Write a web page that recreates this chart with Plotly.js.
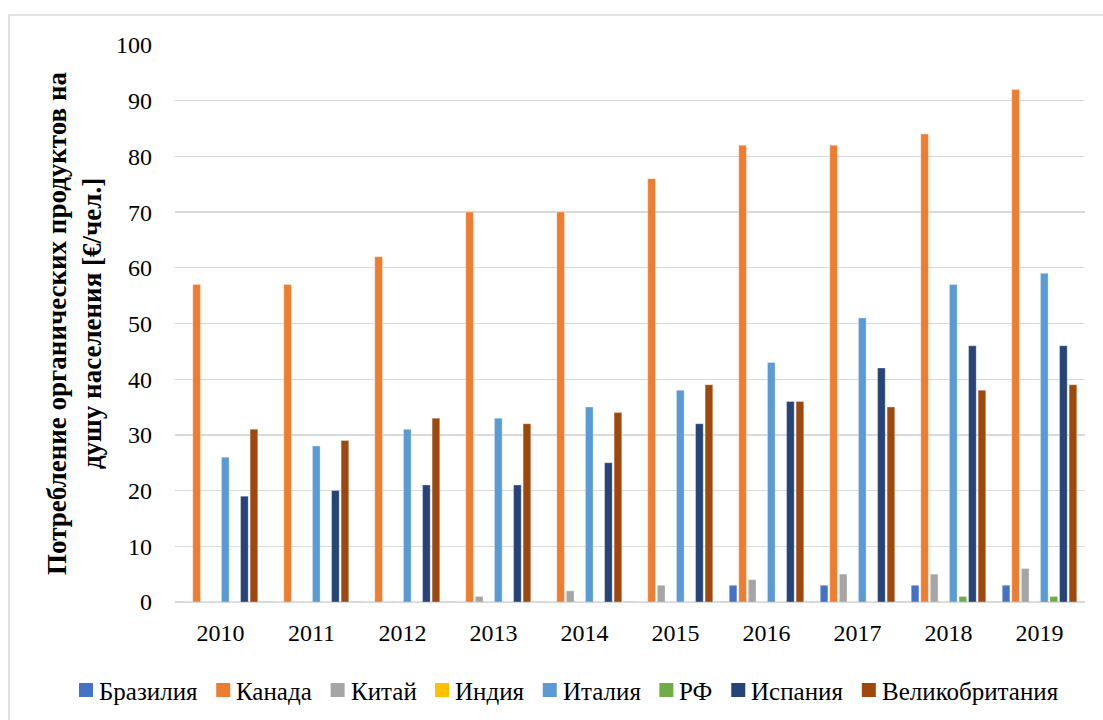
<!DOCTYPE html>
<html><head><meta charset="utf-8">
<script src="https://cdn.plot.ly/plotly-3.0.1.min.js"></script>
<style>html,body{margin:0;padding:0;background:#fff}#chart{width:1103px;height:720px}</style>
</head><body><div id="chart"></div>
<script>
const years = ['2010','2011','2012','2013','2014','2015','2016','2017','2018','2019'];
const brazil = [0,0,0,0,0,0,3,3,3,3];
const canada = [57,57,62,70,70,76,82,82,84,92];
const china = [0,0,0,1,2,3,4,5,5,6];
const india = [0,0,0,0,0,0,0,0,0,0];
const italy = [26,28,31,33,35,38,43,51,57,59];
const russia = [0,0,0,0,0,0,0,0,1,1];
const spain = [19,20,21,21,25,32,36,42,46,46];
const uk = [31,29,33,32,34,39,36,35,38,39];
const seriesNames = ['Бразилия','Канада','Китай','Индия','Италия','РФ','Испания','Великобритания'];
const seriesValues = [brazil, canada, china, india, italy, russia, spain, uk];
const colors = ['#4472c4','#ed7d31','#a5a5a5','#ffc000','#5b9bd5','#70ad47','#264478','#9e480e'];
const FF = '"Liberation Serif", "Times New Roman", serif';

const traces = seriesNames.map((n,i)=>({
  type:'bar', name:n, x:years, y:seriesValues[i], showlegend:false,
  marker:{color:colors[i], line:{color:'rgba(255,255,255,0.6)', width:0.5}},
  hoverinfo:'x+y+name'
}));

const W=1103,H=720,L=175,R=18,T=45,B=118;
const pw=W-L-R, ph=H-T-B;
const px = x => (x-L)/pw;
const py = y => (H-B-y)/ph;

// manual legend
const LEG_FS = 25, LEG_X0 = 79, LEG_X1 = 1058, LEG_Y = 690, SQ = 14, SQGAP = 6;
const ctx = document.createElement('canvas').getContext('2d');
ctx.font = LEG_FS + 'px "Liberation Serif"';
const tw = seriesNames.map(n => ctx.measureText(n).width);
const used = tw.reduce((a,b)=>a+b,0) + seriesNames.length*(SQ+SQGAP);
const gap = (LEG_X1-LEG_X0-used)/(seriesNames.length-1);
const shapes = [{type:'rect', xref:'paper', yref:'paper', x0:px(9), x1:px(1115), y0:py(735), y1:py(15),
    line:{color:'#d9d9d9', width:1.5}, fillcolor:'rgba(0,0,0,0)', layer:'below'}];
const annotations = [];
let cx = LEG_X0;
seriesNames.forEach((n,i)=>{
  shapes.push({type:'rect', xref:'paper', yref:'paper', x0:px(cx), x1:px(cx+SQ), y0:py(LEG_Y+SQ/2), y1:py(LEG_Y-SQ/2),
    line:{width:0}, fillcolor:colors[i]});
  annotations.push({xref:'paper', yref:'paper', x:px(cx+SQ+SQGAP), y:py(LEG_Y+1), xanchor:'left', yanchor:'middle',
    showarrow:false, text:n, font:{size:LEG_FS, family:FF, color:'#000'}, xshift:-2});
  cx += SQ + SQGAP + tw[i] + gap;
});

const layout = {
  width:W, height:H,
  margin:{l:L,r:R,t:T,b:B},
  paper_bgcolor:'#fff', plot_bgcolor:'#fff',
  font:{family:FF, color:'#000', size:24},
  barmode:'group', bargap:0.16, bargroupgap:0.2,
  showlegend:false,
  xaxis:{type:'category', tickfont:{size:24, family:FF, color:'#000'}, showgrid:false, showline:false, ticks:'', ticklen:0,
    ticklabelstandoff:14, automargin:false},
  yaxis:{range:[0,100], dtick:10, tickfont:{size:24, family:FF, color:'#000'}, gridcolor:'#d9d9d9', gridwidth:1.3, automargin:false,
    zeroline:true, zerolinecolor:'#d9d9d9', zerolinewidth:2.5, ticks:'', ticklabelstandoff:22,
    title:{text:'<b>Потребление органических продуктов на<br>душу населения [€/чел.]</b>', font:{size:27, family:FF, color:'#000'}, standoff:6}},
  shapes:shapes,
  annotations:annotations
};
Plotly.newPlot('chart', traces, layout, {displayModeBar:false, staticPlot:true});
</script></body></html>
